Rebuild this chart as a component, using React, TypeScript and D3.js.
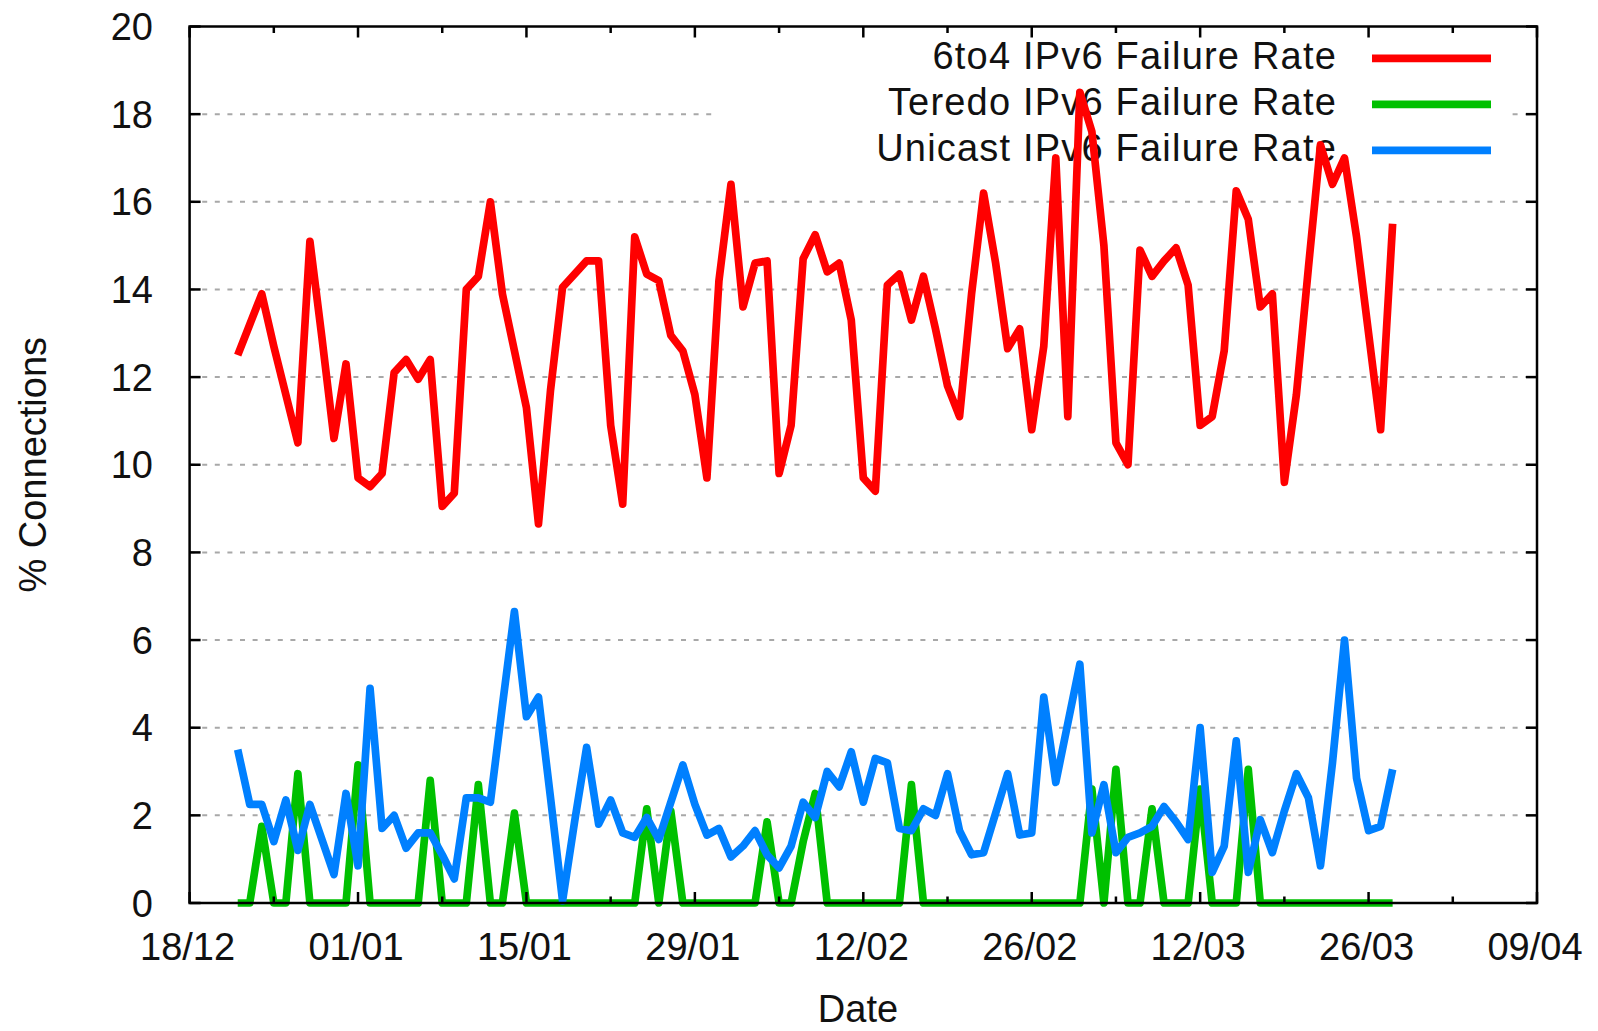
import React from "react";
import * as d3 from "d3";

// Daily observations, 22/12 .. 28/03
const firstDay = Date.UTC(2010, 11, 22);
const lastDayExclusive = Date.UTC(2011, 2, 29);

const sixToFour: number[] = [
  12.5, 13.2, 13.9, 12.7, 11.6, 10.5, 15.1, 12.9, 10.6, 12.3,
  9.7, 9.5, 9.8, 12.1, 12.4, 11.95, 12.4, 9.05, 9.35, 14.0,
  14.3, 16.0, 13.9, 12.6, 11.3, 8.65, 11.7, 14.05, 14.35, 14.65,
  14.65, 10.9, 9.1, 15.2, 14.35, 14.2, 12.95, 12.6, 11.6, 9.7,
  14.2, 16.4, 13.6, 14.6, 14.65, 9.8, 10.9, 14.7, 15.25, 14.4,
  14.6, 13.3, 9.7, 9.4, 14.1, 14.35, 13.3, 14.3, 13.1, 11.8,
  11.1, 13.9, 16.2, 14.6, 12.65, 13.1, 10.8, 12.7, 17.0, 11.1,
  18.5, 17.6, 15.0, 10.5, 10.0, 14.9, 14.3, 14.65, 14.95, 14.1,
  10.9, 11.1, 12.6, 16.25, 15.6, 13.6, 13.9, 9.6, 11.6, 14.5,
  17.3, 16.4, 17.0, 15.2, 13.0, 10.8, 15.5,
];

const teredo: number[] = [
  0, 0, 1.75, 0, 0, 2.95, 0, 0, 0, 0,
  3.15, 0, 0, 0, 0, 0, 2.8, 0, 0, 0,
  2.7, 0, 0, 2.05, 0, 0, 0, 0, 0, 0,
  0, 0, 0, 0, 2.15, 0, 2.1, 0, 0, 0,
  0, 0, 0, 0, 1.85, 0, 0, 1.4, 2.5, 0,
  0, 0, 0, 0, 0, 0, 2.7, 0, 0, 0,
  0, 0, 0, 0, 0, 0, 0, 0, 0, 0,
  0, 2.6, 0, 3.05, 0, 0, 2.15, 0, 0, 0,
  2.6, 0, 0, 0, 3.05, 0, 0, 0, 0, 0,
  0, 0, 0, 0, 0, 0, 0,
];

const unicast: number[] = [
  3.5, 2.25, 2.25, 1.4, 2.35, 1.2, 2.25, 1.45, 0.65, 2.5,
  0.85, 4.9, 1.7, 2.0, 1.25, 1.6, 1.6, 1.1, 0.55, 2.4,
  2.4, 2.3, 4.5, 6.65, 4.25, 4.7, 2.4, 0.05, 1.85, 3.55,
  1.8, 2.35, 1.6, 1.5, 1.95, 1.45, 2.3, 3.15, 2.25, 1.55,
  1.7, 1.05, 1.3, 1.65, 1.1, 0.8, 1.3, 2.3, 1.95, 3.0,
  2.65, 3.45, 2.3, 3.3, 3.2, 1.7, 1.65, 2.15, 2.0, 2.95,
  1.65, 1.1, 1.15, 2.05, 2.95, 1.55, 1.6, 4.7, 2.75, 4.1,
  5.45, 1.6, 2.7, 1.15, 1.5, 1.6, 1.75, 2.2, 1.85, 1.45,
  4.0, 0.7, 1.3, 3.7, 0.7, 1.9, 1.15, 2.1, 2.95, 2.4,
  0.85, 3.2, 6.0, 2.85, 1.65, 1.75, 3.05,
];

const seriesNames = [
  "6to4 IPv6 Failure Rate",
  "Teredo IPv6 Failure Rate",
  "Unicast IPv6 Failure Rate",
];
const seriesColors = ["#ff0000", "#00c000", "#0080ff"];

const xDomainStart = Date.UTC(2010, 11, 18);
const xDomainEnd = Date.UTC(2011, 3, 9);
const yTicks = [0, 2, 4, 6, 8, 10, 12, 14, 16, 18, 20];

const W = 1598;
const H = 1031;
const L = 189.6;
const R = 1537;
const T = 26.5;
const B = 903;
const FONT = "'Liberation Sans', Arial, Helvetica, sans-serif";

export default function App() {
  const dates = d3.utcDay.range(new Date(firstDay), new Date(lastDayExclusive));
  const x = d3
    .scaleUtc()
    .domain([new Date(xDomainStart), new Date(xDomainEnd)])
    .range([L, R]);
  const y = d3.scaleLinear().domain([0, 20]).range([B, T]);

  const majorTicks = d3.utcDay.range(
    new Date(xDomainStart),
    new Date(xDomainEnd + 86400000),
    14
  );
  const minorTicks = d3.utcDay.range(
    new Date(xDomainStart),
    new Date(xDomainEnd + 86400000),
    7
  );
  const fmt = d3.utcFormat("%d/%m");

  const series = [sixToFour, teredo, unicast];
  const line = d3
    .line<number>()
    .x((_, i) => x(dates[i]))
    .y((v) => y(v));

  const keyRows = [58.3, 104.3, 150.3];

  return (
    <svg
      width={W}
      height={H}
      style={{ position: "absolute", left: 0, top: 0, background: "#fff" }}
      fontFamily={FONT}
    >
      <rect x={0} y={0} width={W} height={H} fill="#fff" />
      {/* grid */}
      {yTicks.slice(1, -1).map((t) => (
        <line
          key={"g" + t}
          x1={L}
          x2={R}
          y1={y(t)}
          y2={y(t)}
          stroke="#a8a8a8"
          strokeWidth={2}
          strokeDasharray="5 7.6"
        />
      ))}
      {/* key area blanks the grid */}
      <rect x={716} y={T + 2} width={1511 - 716} height={142} fill="#fff" />

      {/* y tick labels */}
      {yTicks.map((t) => (
        <text
          key={"yl" + t}
          x={153}
          y={y(t)}
          dy="0.36em"
          textAnchor="end"
          fontSize={38}
          fill="#111"
        >
          {t}
        </text>
      ))}
      {/* x tick labels */}
      {majorTicks.map((d) => (
        <text
          key={"xl" + d.getTime()}
          x={x(d) - 2}
          y={960}
          textAnchor="middle"
          fontSize={38}
          fill="#111"
        >
          {fmt(d)}
        </text>
      ))}
      {/* axis titles */}
      <text
        transform={`translate(46,${(T + B) / 2}) rotate(-90)`}
        textAnchor="middle"
        fontSize={38}
        fill="#111"
      >
        % Connections
      </text>
      <text x={858} y={1022} textAnchor="middle" fontSize={38} fill="#111">
        Date
      </text>

      {/* legend */}
      {seriesNames.map((n, i) => (
        <g key={"k" + i}>
          <text
            x={1337}
            y={keyRows[i] + 10.5}
            textAnchor="end"
            fontSize={38}
            letterSpacing={1.2}
            fill="#111"
          >
            {n}
          </text>
          <line
            x1={1372}
            x2={1491}
            y1={keyRows[i]}
            y2={keyRows[i]}
            stroke={seriesColors[i]}
            strokeWidth={7.7}
          />
        </g>
      ))}

      {/* data */}
      {series.map((s, i) => (
        <path
          key={"s" + i}
          d={line(s) || ""}
          fill="none"
          stroke={seriesColors[i]}
          strokeWidth={7.7}
          strokeLinejoin="round"
          strokeLinecap="butt"
        />
      ))}

      {/* ticks */}
      {yTicks.map((t) => (
        <g key={"yt" + t}>
          <line x1={L} x2={L + 11} y1={y(t)} y2={y(t)} stroke="#000" strokeWidth={2.5} />
          <line x1={R - 11} x2={R} y1={y(t)} y2={y(t)} stroke="#000" strokeWidth={2.5} />
        </g>
      ))}
      {minorTicks.map((d, i) => {
        const len = i % 2 === 0 ? 11 : 6.5;
        return (
          <g key={"xt" + d.getTime()}>
            <line x1={x(d)} x2={x(d)} y1={B} y2={B - len} stroke="#000" strokeWidth={2.5} />
            <line x1={x(d)} x2={x(d)} y1={T} y2={T + len} stroke="#000" strokeWidth={2.5} />
          </g>
        );
      })}
      {/* frame */}
      <rect
        x={L}
        y={T}
        width={R - L}
        height={B - T}
        fill="none"
        stroke="#000"
        strokeWidth={2.5}
      />
    </svg>
  );
}
